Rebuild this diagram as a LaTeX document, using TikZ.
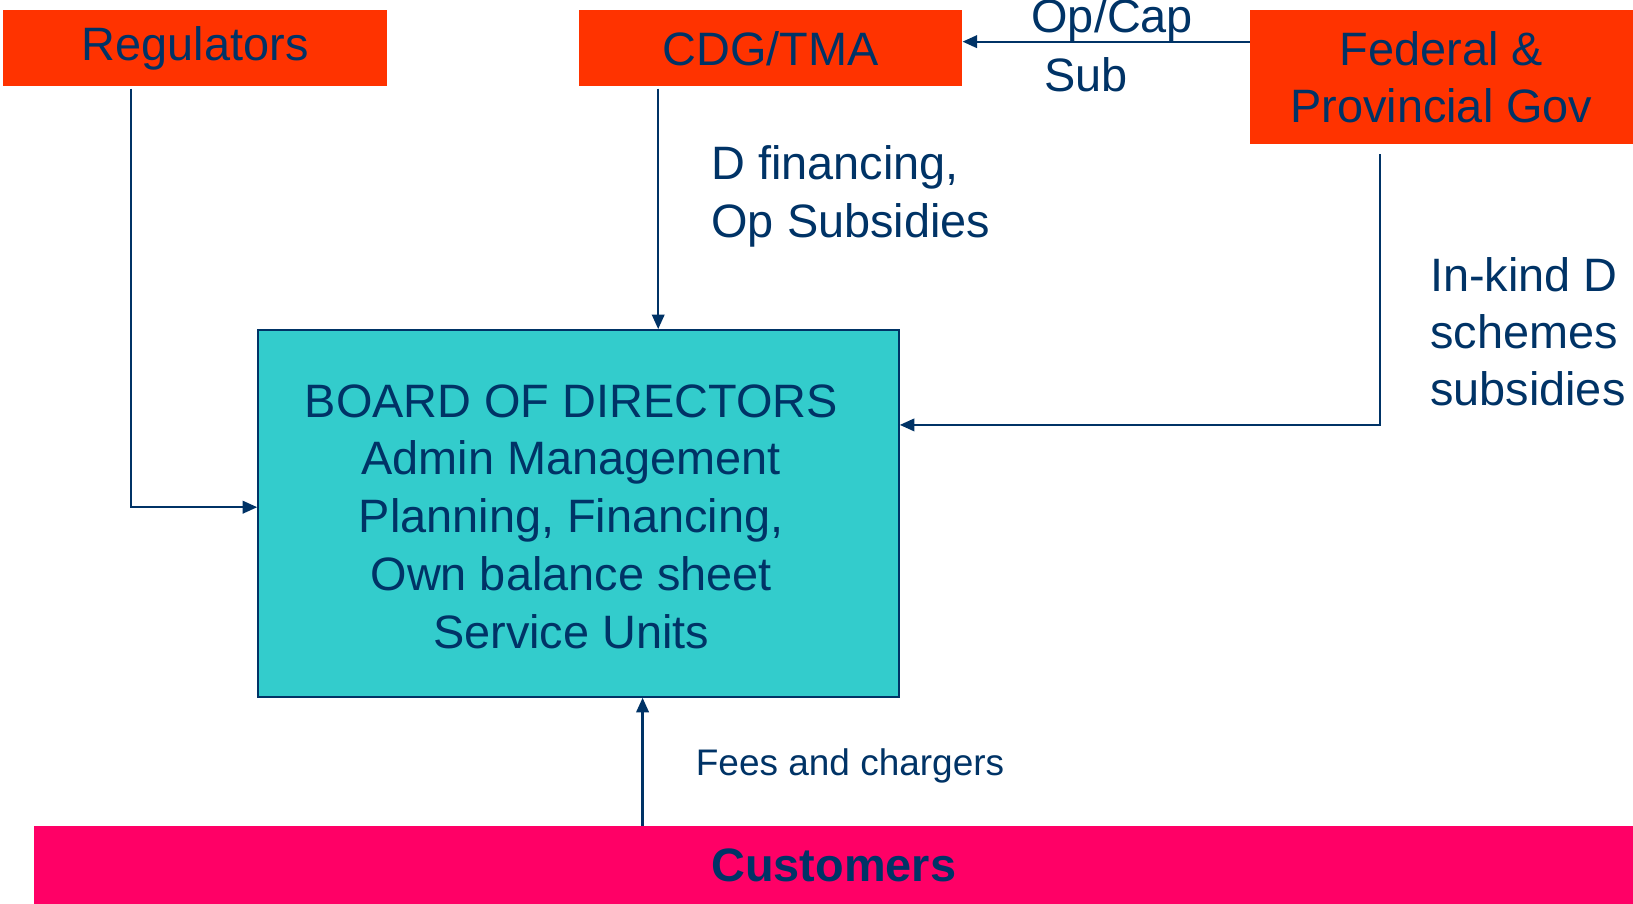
\documentclass[tikz,border=0pt]{standalone}
\usepackage{fontspec}
\setmainfont{Liberation Sans}
\usetikzlibrary{arrows.meta,calc}
\definecolor{navy}{HTML}{003366}
\definecolor{redor}{HTML}{FF3300}
\definecolor{magent}{HTML}{FF0066}
\definecolor{teal2}{HTML}{33CCCC}
\begin{document}
\begin{tikzpicture}[x=1pt,y=-1pt,
  big/.style={font=\fontsize{45}{55}\selectfont, text=navy, inner sep=0pt},
  topbox/.style={big, fill=redor, draw=none, align=center},
  conn/.style={draw=navy, line width=2.2pt, -{Triangle[length=14pt,width=12pt]}},
  lbl/.style={big, align=left, anchor=north west}]
\useasboundingbox (0,0) rectangle (1568,868);
\fill[white] (0,0) rectangle (1568,868);
\node[topbox, minimum width=369pt, minimum height=73pt] (reg) at (187.5,46.5) {Regulators};
\node[topbox, minimum width=368pt, minimum height=73pt] (cdg) at (740,46.5) {CDG/TMA};
\node[topbox, minimum width=368pt, minimum height=128pt] (fed) at (1384,74) {Federal \&\\Provincial Gov};
\node[fill=teal2, draw=navy, line width=2pt, minimum width=615pt, minimum height=352pt, inner sep=0pt] (board) at (555.5,493) {};
\node[big, align=center, font=\fontsize{45}{55.5}\selectfont] (boardtxt) at (548.5,496)
  {BOARD OF DIRECTORS\\Admin Management\\Planning, Financing,\\Own balance sheet\\Service Units};
\node[big, fill=magent, minimum width=1535pt, minimum height=75pt, font=\fontsize{45}{54}\selectfont\bfseries] (cust) at (800.5,830.5) {Customers};
% labels
\node[big, anchor=base] (opcap) at (1068,31) {Op/Cap};
\node[big, anchor=base] (sub) at (1043,88) {Sub};
\node[lbl] (dfin) at (683,140) {D financing,\\Op Subsidies};
\node[lbl] (inkind) at (1373,247) {In-kind D\\schemes\\subsidies};
\node[big, anchor=base west, font=\fontsize{35.5}{42}\selectfont] (fees) at (668,745) {Fees and chargers};
% connectors
\draw[conn] ([xshift=-61.5pt,yshift=-2pt]reg.south) |- ([yshift=6pt]board.west);
\draw[conn] ([xshift=-108pt,yshift=-2pt]cdg.south) -- ([xshift=-108pt]cdg.south |- board.north);
\draw[conn] ([xshift=-59pt,yshift=-10pt]fed.south) |- ([yshift=85pt]board.east);
\draw[conn] ([xshift=-183.5pt]cust.north) -- ([xshift=-183.5pt]cust.north |- board.south);
\draw[conn] ([yshift=34pt]fed.west) -- ([yshift=34pt]fed.west -| cdg.east);
\end{tikzpicture}
\end{document}
